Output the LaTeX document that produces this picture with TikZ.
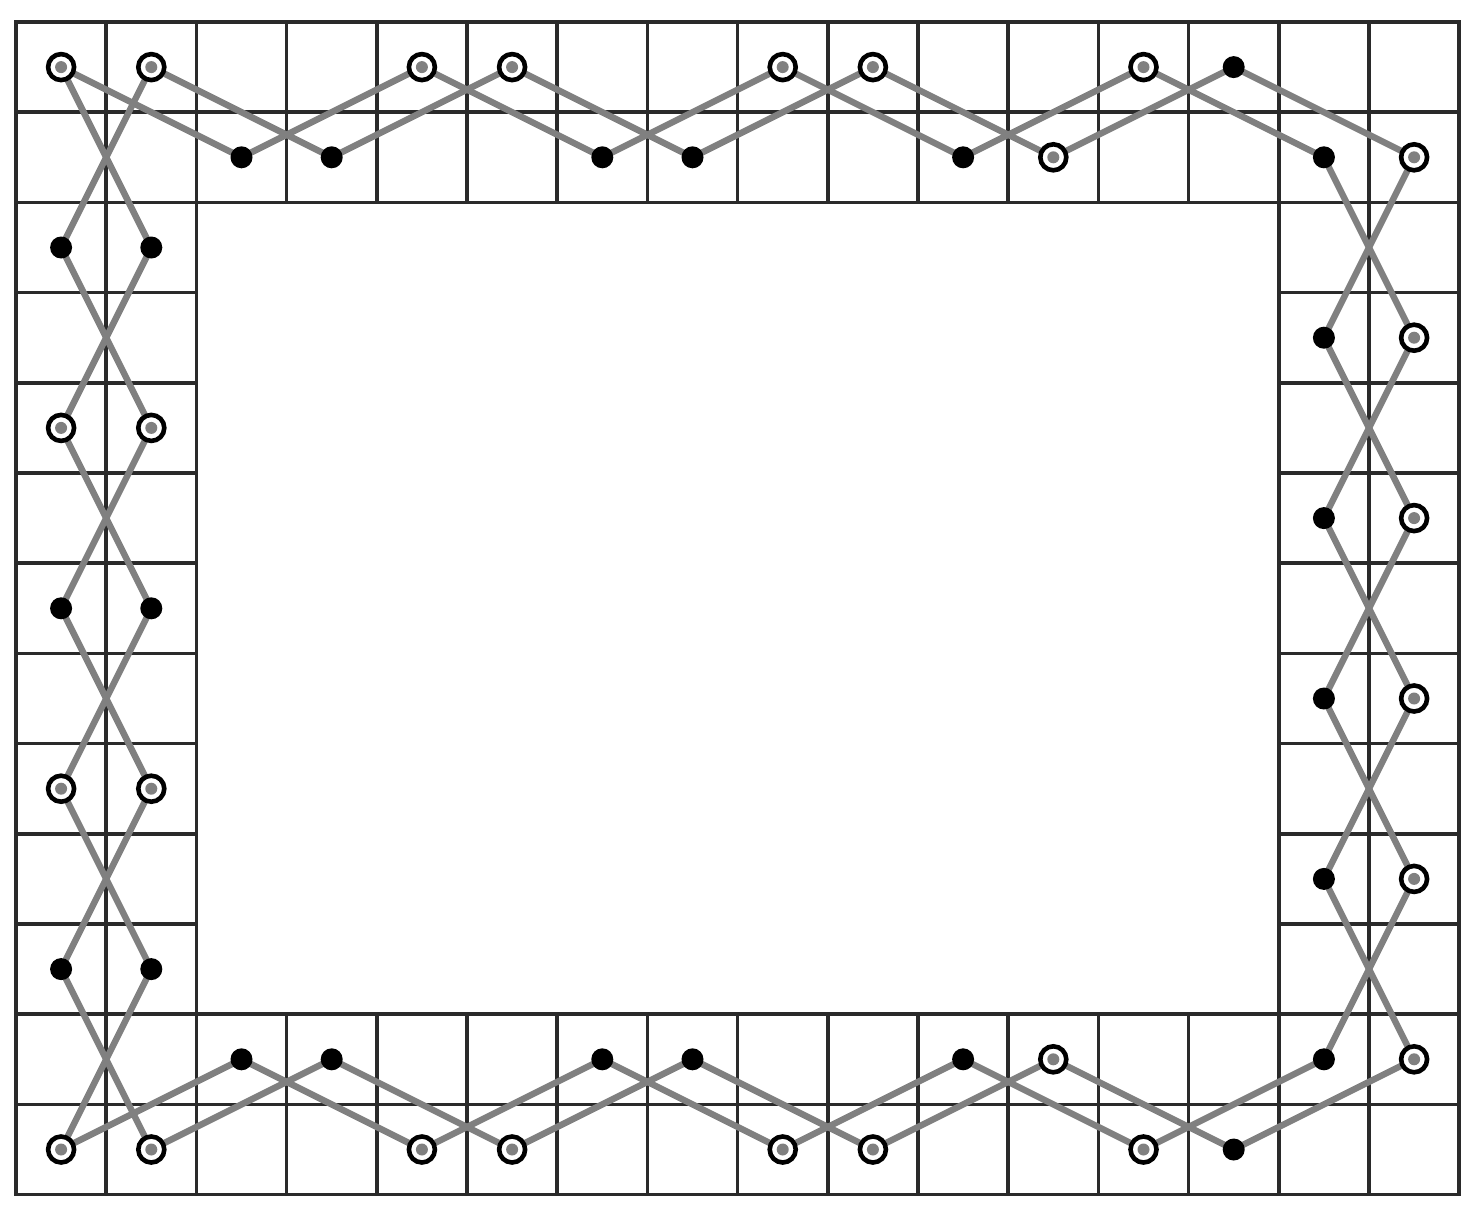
\documentclass[tikz,border=0pt]{standalone}
\pgfdeclarelayer{gridlayer}
\pgfdeclarelayer{linelayer}
\pgfsetlayers{gridlayer,linelayer,main}
\definecolor{gridcol}{HTML}{2A2A2A}
\definecolor{threadcol}{HTML}{808080}
\tikzset{
  ring/.style={circle,draw=black,line width=2.3pt,fill=white,minimum size=13pt,inner sep=0pt,
    path picture={\fill[threadcol] (path picture bounding box.center) circle (3pt);}},
  blob/.style={circle,fill=black,minimum size=11pt,inner sep=0pt},
  cellbox/.style={draw=gridcol,line width=1.8pt},
  thread/.style={draw=threadcol,line width=3.2pt,line join=round}
}
\begin{document}
\begin{tikzpicture}[x=0.5pt,y=-0.5pt]
\useasboundingbox (0,0) rectangle (1481,1221);
% grid cells of the frame
\begin{pgfonlayer}{gridlayer}
\foreach \c in {0,...,15}{
  \foreach \r in {0,...,12}{
    \pgfmathtruncatemacro{\inframe}{(\r<2) || (\r>10) || (\c<2) || (\c>13)}
    \ifnum\inframe=1
      \draw[cellbox] ({16+90.2*\c},{22+90.2*\r}) rectangle ({16+90.2*(\c+1)},{22+90.2*(\r+1)});
    \fi
  }
}
\end{pgfonlayer}
% rings
\foreach \c/\r in {0/0,1/0,4/0,5/0,8/0,9/0,12/0,11/1,15/1,
  0/4,1/4,0/8,1/8,0/12,1/12,
  15/3,15/5,15/7,15/9,15/11,
  4/12,5/12,8/12,9/12,12/12,11/11}
  \node[ring] (m-\c-\r) at ({61.1+90.2*\c},{67.1+90.2*\r}) {};
% dots
\foreach \c/\r in {13/0,2/1,3/1,6/1,7/1,10/1,14/1,
  0/2,1/2,0/6,1/6,0/10,1/10,
  14/3,14/5,14/7,14/9,14/11,
  2/11,3/11,6/11,7/11,10/11,13/12}
  \node[blob] (m-\c-\r) at ({61.1+90.2*\c},{67.1+90.2*\r}) {};
% threads
\begin{pgfonlayer}{linelayer}
\draw[thread] (m-0-0.center) -- (m-2-1.center) -- (m-4-0.center) -- (m-6-1.center) -- (m-8-0.center) -- (m-10-1.center) -- (m-12-0.center) -- (m-14-1.center);
\draw[thread] (m-1-0.center) -- (m-3-1.center) -- (m-5-0.center) -- (m-7-1.center) -- (m-9-0.center) -- (m-11-1.center) -- (m-13-0.center) -- (m-15-1.center);
\draw[thread] (m-0-0.center) -- (m-1-2.center) -- (m-0-4.center) -- (m-1-6.center) -- (m-0-8.center) -- (m-1-10.center) -- (m-0-12.center);
\draw[thread] (m-1-0.center) -- (m-0-2.center) -- (m-1-4.center) -- (m-0-6.center) -- (m-1-8.center) -- (m-0-10.center) -- (m-1-12.center);
\draw[thread] (m-0-12.center) -- (m-2-11.center) -- (m-4-12.center) -- (m-6-11.center) -- (m-8-12.center) -- (m-10-11.center) -- (m-12-12.center) -- (m-14-11.center);
\draw[thread] (m-1-12.center) -- (m-3-11.center) -- (m-5-12.center) -- (m-7-11.center) -- (m-9-12.center) -- (m-11-11.center) -- (m-13-12.center) -- (m-15-11.center);
\draw[thread] (m-14-1.center) -- (m-15-3.center) -- (m-14-5.center) -- (m-15-7.center) -- (m-14-9.center) -- (m-15-11.center);
\draw[thread] (m-15-1.center) -- (m-14-3.center) -- (m-15-5.center) -- (m-14-7.center) -- (m-15-9.center) -- (m-14-11.center);
\end{pgfonlayer}
\end{tikzpicture}
\end{document}
